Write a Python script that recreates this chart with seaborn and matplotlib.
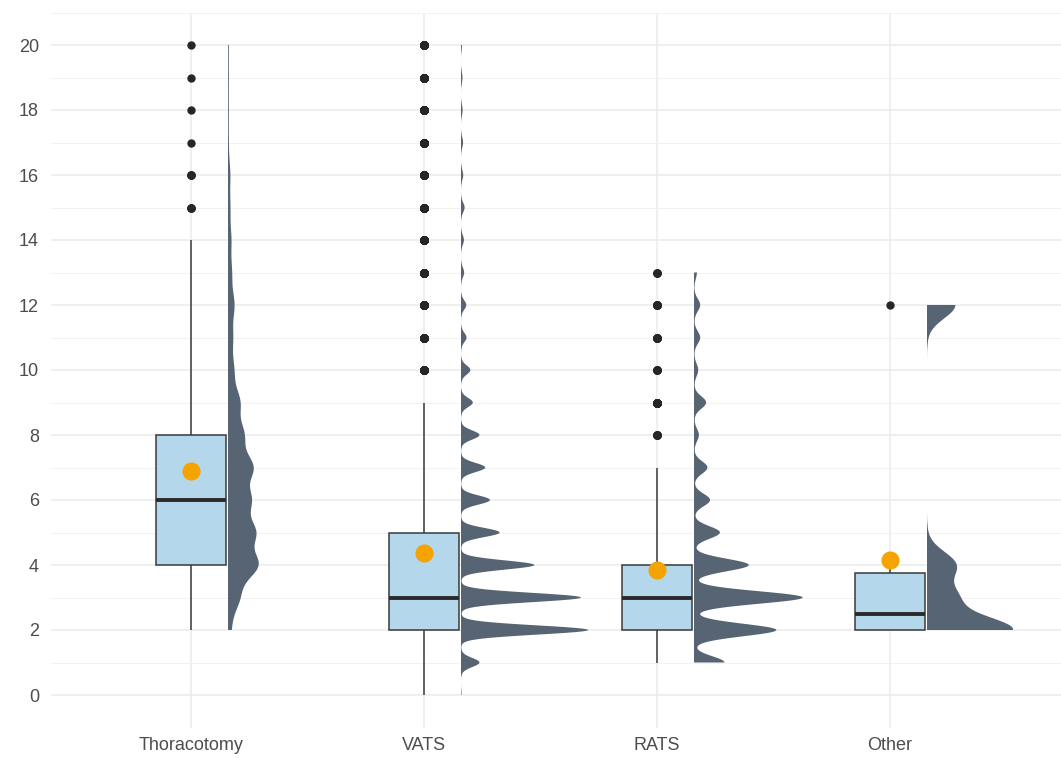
import numpy as np
import pandas as pd
import seaborn as sns
import matplotlib
matplotlib.use("Agg")
import matplotlib.pyplot as plt
import matplotlib.transforms as mtransforms
from matplotlib.patches import Rectangle

# ---------------- data (counts of observations per integer value) ----------------
categories = ["Thoracotomy", "VATS", "RATS", "Other"]
values = list(range(0, 21))
thoracotomy_counts = [0, 0, 6, 22, 58, 52, 43, 48, 30, 23, 11, 9, 12, 7, 6, 4, 4, 1, 1, 1, 1]
vats_counts = [11, 710, 4960, 4680, 2860, 1500, 1120, 935, 710, 450, 355, 205, 195, 112, 103,
               130, 75, 71, 52, 47, 28]
rats_counts = [0, 46, 125, 165, 83, 39, 24, 20, 7, 18, 6, 9, 9, 4, 0, 0, 0, 0, 0, 0, 0]
other_counts = [0, 0, 3, 1, 1, 0, 0, 0, 0, 0, 0, 0, 1, 0, 0, 0, 0, 0, 0, 0, 0]
y_ticks = list(range(0, 21, 2))

box_fill = "#B4D7EC"
box_line = "#3A3A3A"
violin_fill = "#566473"
mean_color = "#F4A300"
grid_color = "#EBEBEB"
text_color = "#4D4D4D"

frames = []
for cat, counts in zip(categories, [thoracotomy_counts, vats_counts, rats_counts, other_counts]):
    frames.append(pd.DataFrame({"group": cat,
                                "value": np.repeat(values, counts).astype(float)}))
df = pd.concat(frames, ignore_index=True)


def nrd0_factor(kde):
    """Silverman's rule of thumb (R's bw.nrd0) expressed as a kde factor."""
    x = np.asarray(kde.dataset, dtype=float).ravel()
    sd = np.std(x, ddof=1)
    q1, q3 = np.percentile(x, [25, 75])
    lo = min(sd, (q3 - q1) / 1.34)
    h = 0.9 * lo * len(x) ** -0.2
    return h / sd


sns.set_theme(style="white")
plt.rcParams["font.family"] = ["Liberation Sans", "DejaVu Sans"]

fig = plt.figure(figsize=(10.61, 7.58), dpi=100)
ax = fig.add_axes([51 / 1061, (758 - 727.5) / 758, 1010 / 1061, 715 / 758])

# half violins: full violins, nudged right and clipped to their right half
nudge = 0.16
n_before = len(ax.collections)
sns.violinplot(data=df, x="group", y="value", order=categories,
               color=violin_fill, saturation=1, inner=None, cut=0,
               density_norm="area", bw_method=nrd0_factor, bw_adjust=0.5,
               gridsize=900, width=1.09, linewidth=0,
               ax=ax)
shift = mtransforms.Affine2D().translate(nudge, 0) + ax.transData
for coll in ax.collections[n_before:]:
    verts = np.concatenate([p.vertices for p in coll.get_paths()])
    pos = round((verts[:, 0].min() + verts[:, 0].max()) / 2)
    coll.set_transform(shift)
    coll.set_edgecolor("none")
    clip = Rectangle((pos + nudge, -50), 5, 100, transform=ax.transData)
    coll.set_clip_path(clip)

# boxplots
sns.boxplot(data=df, x="group", y="value", order=categories,
            width=0.3, color=box_fill, saturation=1, linecolor=box_line,
            linewidth=1.1, showcaps=False,
            medianprops={"linewidth": 2.8, "color": "#2B2B2B"},
            flierprops={"marker": "o", "markersize": 5,
                        "markerfacecolor": "#262626", "markeredgecolor": "#262626"},
            ax=ax)

# means
sns.pointplot(data=df, x="group", y="value", order=categories,
              estimator="mean", errorbar=None, color=mean_color,
              markers="o", linestyle="none", markersize=11, zorder=6, ax=ax)

# ---------------- styling ----------------
ax.set_xlim(-0.601, 3.734)
ax.set_ylim(-1, 21)
ax.set_yticks(y_ticks)
ax.set_yticklabels([str(t) for t in y_ticks])
ax.set_yticks(list(range(-1, 22, 2)), minor=True)
ax.set_xticks(range(len(categories)))
ax.set_xticklabels(categories)
ax.set_axisbelow(True)
ax.yaxis.grid(True, which="major", color=grid_color, linewidth=1.1)
ax.yaxis.grid(True, which="minor", color="#F2F2F2", linewidth=0.7)
ax.xaxis.grid(True, which="major", color=grid_color, linewidth=1.1)
for s in ax.spines.values():
    s.set_visible(False)
ax.tick_params(axis="both", which="both", length=0, labelsize=13, labelcolor=text_color)
ax.tick_params(axis="y", pad=8.6)
ax.tick_params(axis="x", pad=6.5)
ax.set_xlabel("")
ax.set_ylabel("")

fig.savefig("out.png", dpi=100)
